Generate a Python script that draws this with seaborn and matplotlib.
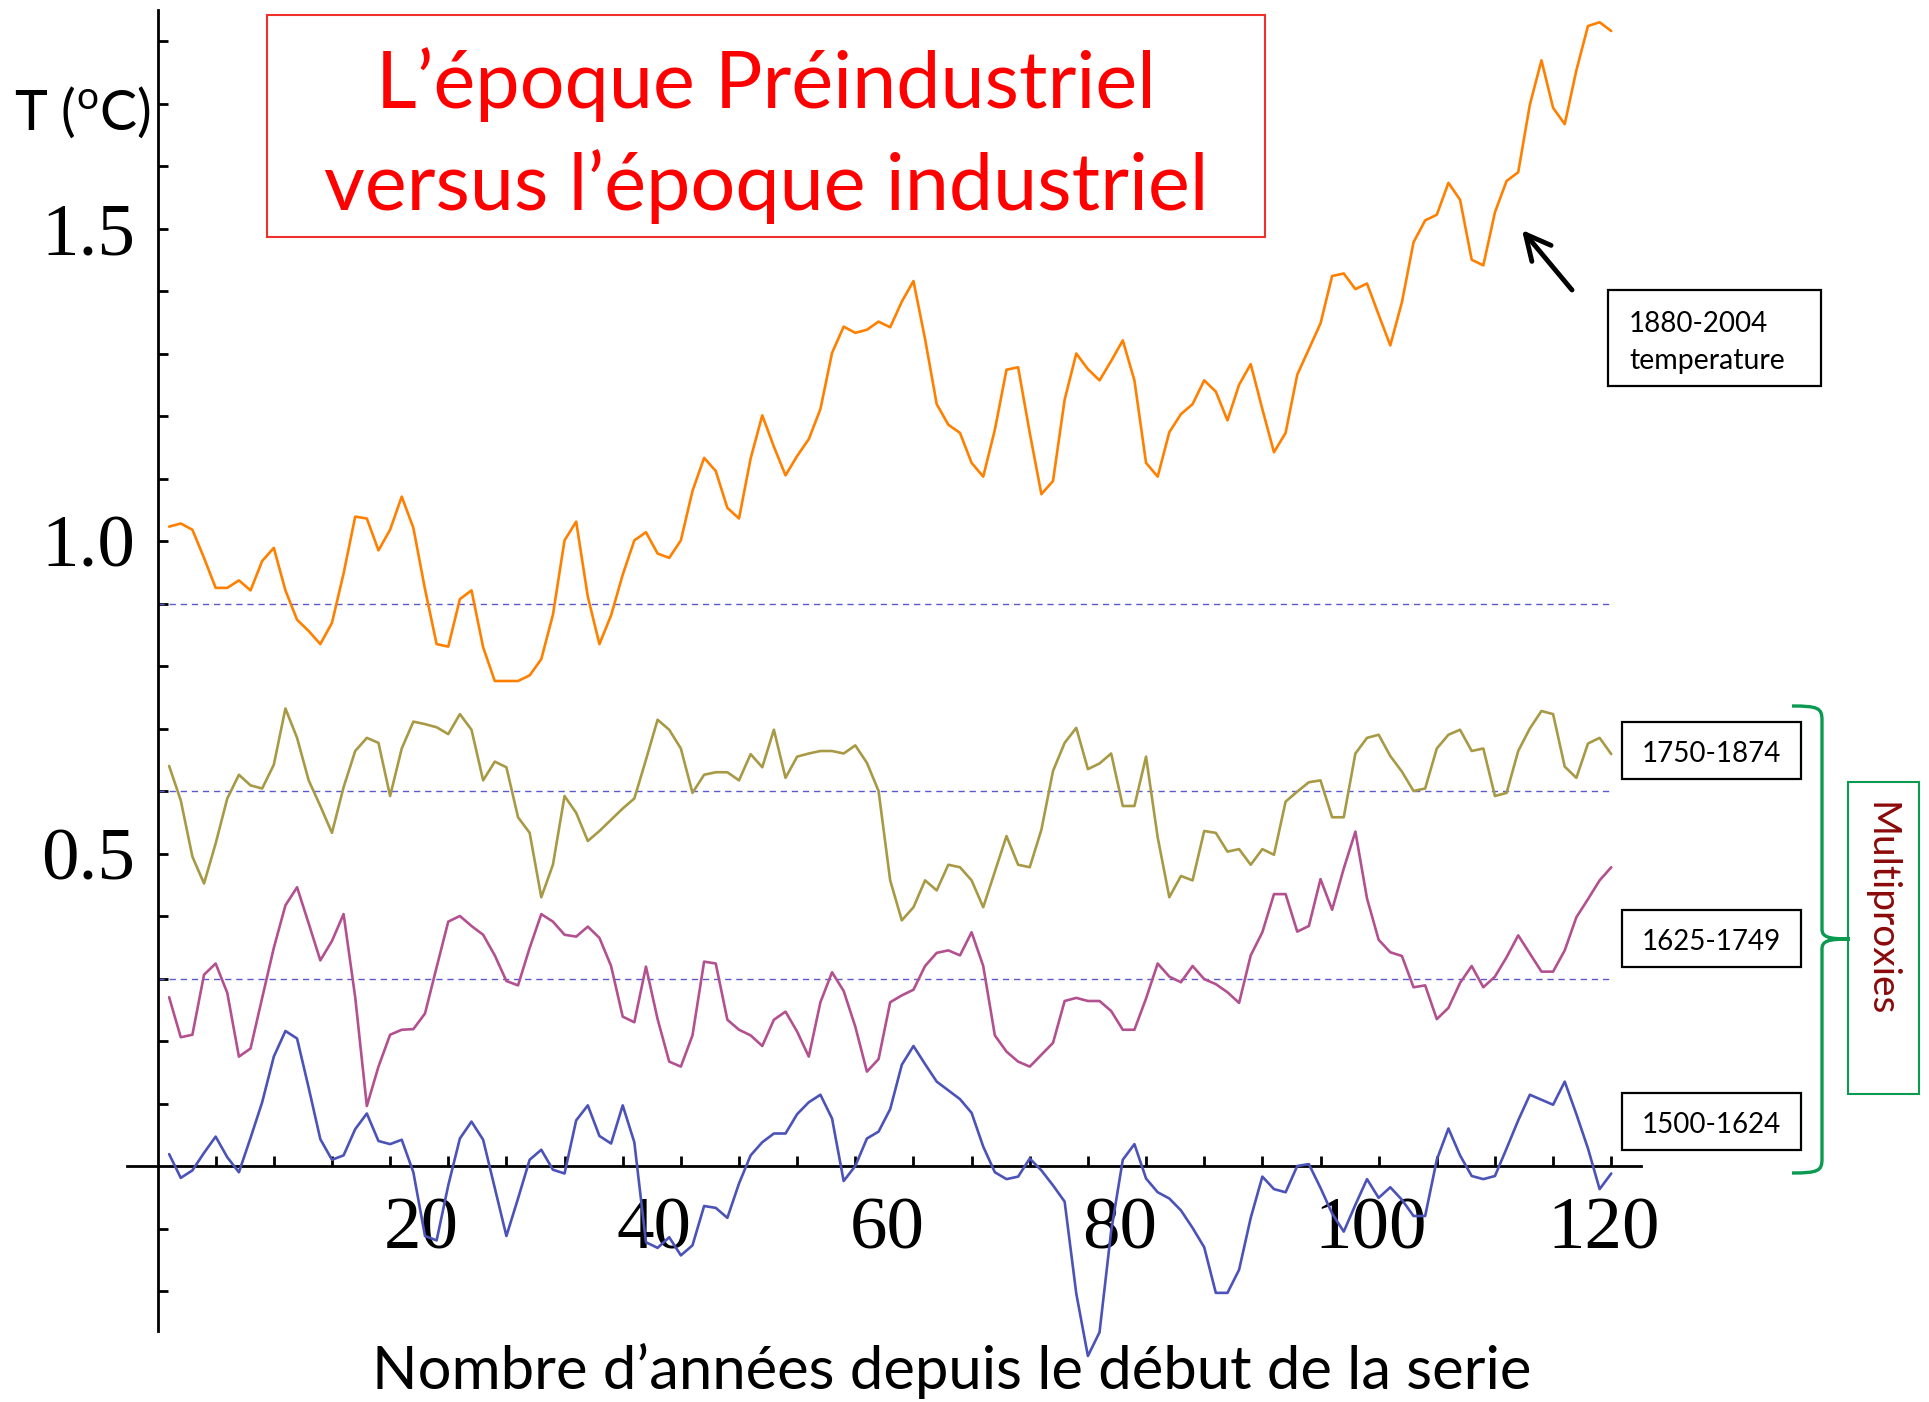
import numpy as np
import pandas as pd
import matplotlib
matplotlib.use("Agg")
import matplotlib.pyplot as plt
import seaborn as sns
from matplotlib.patches import Rectangle, PathPatch
from matplotlib.path import Path
from matplotlib.transforms import ScaledTranslation

# ---------------- data ----------------
years_index = list(range(1, 126))

temp_1880_2004 = [
    1.023, 1.028, 1.018, 0.973, 0.925, 0.925, 0.937, 0.921, 0.968, 0.989,
    0.921, 0.874, 0.856, 0.835, 0.869, 0.948, 1.039, 1.036, 0.985, 1.018,
    1.071, 1.021, 0.923, 0.835, 0.831, 0.907, 0.921, 0.830, 0.776, 0.776,
    0.776, 0.785, 0.811, 0.882, 1.001, 1.031, 0.911, 0.835, 0.881, 0.946,
    1.001, 1.014, 0.980, 0.973, 1.001, 1.080, 1.133, 1.112, 1.053, 1.036,
    1.132, 1.201, 1.151, 1.105, 1.136, 1.163, 1.211, 1.301, 1.343, 1.333,
    1.338, 1.351, 1.342, 1.383, 1.416, 1.323, 1.219, 1.186, 1.173, 1.125,
    1.103, 1.178, 1.274, 1.278, 1.173, 1.075, 1.096, 1.226, 1.300, 1.275,
    1.257, 1.288, 1.321, 1.257, 1.125, 1.103, 1.174, 1.203, 1.219, 1.257,
    1.239, 1.193, 1.250, 1.283, 1.211, 1.142, 1.173, 1.266, 1.307, 1.348,
    1.424, 1.428, 1.403, 1.412, 1.362, 1.313, 1.382, 1.478, 1.513, 1.522,
    1.573, 1.546, 1.450, 1.441, 1.526, 1.576, 1.590, 1.698, 1.769, 1.693,
    1.667, 1.753, 1.824, 1.830, 1.816]

proxy_1750_1874 = [
    0.640, 0.585, 0.495, 0.452, 0.516, 0.588, 0.626, 0.609, 0.604, 0.642,
    0.732, 0.685, 0.617, 0.576, 0.533, 0.606, 0.664, 0.685, 0.677, 0.592,
    0.668, 0.711, 0.707, 0.702, 0.691, 0.723, 0.698, 0.617, 0.647, 0.638,
    0.558, 0.533, 0.430, 0.482, 0.592, 0.565, 0.520, 0.536, 0.554, 0.572,
    0.588, 0.650, 0.714, 0.698, 0.668, 0.597, 0.626, 0.630, 0.630, 0.617,
    0.659, 0.638, 0.698, 0.621, 0.655, 0.660, 0.664, 0.664, 0.660, 0.673,
    0.645, 0.600, 0.457, 0.393, 0.414, 0.457, 0.441, 0.482, 0.478, 0.457,
    0.414, 0.471, 0.528, 0.482, 0.478, 0.538, 0.632, 0.677, 0.701, 0.635,
    0.644, 0.660, 0.576, 0.576, 0.655, 0.526, 0.430, 0.464, 0.457, 0.536,
    0.533, 0.503, 0.507, 0.482, 0.507, 0.498, 0.583, 0.599, 0.614, 0.617,
    0.558, 0.558, 0.660, 0.685, 0.690, 0.656, 0.631, 0.600, 0.604, 0.668,
    0.690, 0.698, 0.664, 0.668, 0.592, 0.597, 0.664, 0.700, 0.728, 0.723,
    0.639, 0.621, 0.676, 0.685, 0.659]

proxy_1625_1749 = [
    0.270, 0.206, 0.210, 0.306, 0.324, 0.277, 0.175, 0.188, 0.269, 0.349,
    0.417, 0.446, 0.388, 0.329, 0.360, 0.403, 0.270, 0.096, 0.159, 0.210,
    0.218, 0.219, 0.244, 0.318, 0.391, 0.400, 0.384, 0.370, 0.337, 0.296,
    0.289, 0.349, 0.403, 0.391, 0.370, 0.367, 0.383, 0.365, 0.320, 0.239,
    0.230, 0.319, 0.235, 0.167, 0.159, 0.209, 0.327, 0.324, 0.234, 0.218,
    0.209, 0.192, 0.234, 0.247, 0.215, 0.175, 0.262, 0.310, 0.280, 0.223,
    0.151, 0.171, 0.262, 0.273, 0.282, 0.320, 0.341, 0.345, 0.337, 0.374,
    0.320, 0.209, 0.183, 0.167, 0.159, 0.178, 0.197, 0.264, 0.269, 0.264,
    0.264, 0.248, 0.218, 0.218, 0.268, 0.324, 0.303, 0.294, 0.320, 0.299,
    0.291, 0.278, 0.261, 0.337, 0.374, 0.435, 0.435, 0.375, 0.384, 0.459,
    0.410, 0.476, 0.535, 0.428, 0.362, 0.342, 0.336, 0.286, 0.289, 0.235,
    0.253, 0.293, 0.320, 0.286, 0.303, 0.334, 0.369, 0.340, 0.311, 0.311,
    0.345, 0.398, 0.427, 0.457, 0.478]

proxy_1500_1624 = [
    0.019, -0.019, -0.007, 0.021, 0.047, 0.014, -0.010, 0.045, 0.102, 0.175,
    0.216, 0.204, 0.125, 0.043, 0.010, 0.017, 0.059, 0.084, 0.040, 0.035,
    0.042, -0.010, -0.112, -0.119, -0.031, 0.044, 0.071, 0.042, -0.035, -0.112,
    -0.052, 0.010, 0.026, -0.006, -0.012, 0.073, 0.097, 0.048, 0.036, 0.097,
    0.038, -0.122, -0.131, -0.114, -0.143, -0.127, -0.064, -0.067, -0.083, -0.028,
    0.017, 0.038, 0.052, 0.052, 0.083, 0.102, 0.114, 0.076, -0.024, 0.000,
    0.044, 0.055, 0.091, 0.162, 0.192, 0.163, 0.135, 0.121, 0.107, 0.085,
    0.031, -0.010, -0.021, -0.017, 0.012, -0.007, -0.031, -0.057, -0.204, -0.304,
    -0.266, -0.104, 0.010, 0.035, -0.020, -0.042, -0.052, -0.071, -0.099, -0.130,
    -0.203, -0.203, -0.166, -0.083, -0.017, -0.037, -0.042, 0.000, 0.003, -0.035,
    -0.076, -0.105, -0.062, -0.021, -0.051, -0.034, -0.054, -0.080, -0.080, 0.010,
    0.060, 0.017, -0.016, -0.021, -0.016, 0.028, 0.073, 0.114, 0.106, 0.098,
    0.135, 0.083, 0.028, -0.037, -0.012]

series_names = ["1880-2004 temperature", "1750-1874", "1625-1749", "1500-1624"]
series_colors = ["#FF8000", "#A89A45", "#B3508F", "#4B52B8"]
baselines = [0.9, 0.6, 0.3]
x_major_ticks = [20, 40, 60, 80, 100, 120]
x_tick_labels = ["20", "40", "60", "80", "100", "120"]
y_major_ticks = [0.5, 1.0, 1.5]
y_tick_labels = ["0.5", "1.0", "1.5"]

title_lines = ["L\u2019\u00e9poque Pr\u00e9industriel", "versus l\u2019\u00e9poque industriel"]
x_label = "Nombre d\u2019ann\u00e9es depuis le d\u00e9but de la serie"
y_label = r"T ($^{\mathregular{o}}$C)"

# ---------------- figure ----------------
W, H, DPI = 1929, 1402, 100
sns.set_theme(style="white")
plt.rcParams['font.family'] = ['Lato', 'DejaVu Sans']
plt.rcParams['text.color'] = 'black'
plt.rcParams['axes.labelcolor'] = 'black'
plt.rcParams['xtick.color'] = 'black'
plt.rcParams['ytick.color'] = 'black'

fig = plt.figure(figsize=(W / DPI, H / DPI), dpi=DPI)
fig.patch.set_facecolor("white")
ax = fig.add_axes([0, 0, 1, 1])
ax.set_facecolor("none")

X0, Y0 = 157.5, 1166.0   # pixel location of the data origin
SX, SY = 11.63, 625.0    # pixels per data unit
ax.set_xlim(-X0 / SX, (W - X0) / SX)
ax.set_ylim(-(H - Y0) / SY, Y0 / SY)

def fx(px):
    return px / W

def fy(py):
    return 1 - py / H

df = pd.concat([
    pd.DataFrame({"x": years_index, "T": vals, "serie": name})
    for name, vals in zip(series_names,
                          [temp_1880_2004, proxy_1750_1874, proxy_1625_1749, proxy_1500_1624])
], ignore_index=True)

ax.hlines(baselines, 0, years_index[-1], colors="#5A5AD0", linestyles=(0, (4.5, 3.5)),
          linewidth=1.0, zorder=1)

sns.lineplot(data=df, x="x", y="T", hue="serie", hue_order=series_names,
             palette=dict(zip(series_names, series_colors)), estimator=None,
             linewidth=1.9, legend=False, ax=ax, zorder=3)

# axes spines through the origin
for s in ["top", "right"]:
    ax.spines[s].set_visible(False)
ax.spines["left"].set_position(("data", 0))
ax.spines["bottom"].set_position(("data", 0))
ax.spines["left"].set_bounds(-0.264, 1.85)
ax.spines["bottom"].set_bounds(-2.62, 127.6)
for s in ["left", "bottom"]:
    ax.spines[s].set_color("black")
    ax.spines[s].set_linewidth(2.0)
    ax.spines[s].set_zorder(2)

ax.set_xticks(x_major_ticks, labels=x_tick_labels)
ax.set_xticks([t for t in range(5, 126, 5) if t not in x_major_ticks], minor=True)
ax.set_yticks(y_major_ticks, labels=y_tick_labels)
ax.set_yticks([round(v, 1) for v in np.arange(-0.2, 1.81, 0.1)
               if round(v, 1) not in y_major_ticks and abs(v) > 1e-9], minor=True)
ax.tick_params(axis="both", which="both", direction="in", length=7, width=2,
               color="black", labelcolor="black",
               bottom=True, left=True, top=False, right=False)
ax.tick_params(axis="x", which="major", pad=22, labelsize=54)
ax.tick_params(axis="y", which="major", pad=16, labelsize=54)
shift = ScaledTranslation(-6 / DPI, 0, fig.dpi_scale_trans)
for lbl in ax.get_xticklabels():
    lbl.set_fontfamily("Liberation Serif")
    lbl.set_color("black")
    lbl.set_horizontalalignment("left")
    lbl.set_transform(lbl.get_transform() + shift)
for lbl in ax.get_yticklabels():
    lbl.set_fontfamily("Liberation Serif")
    lbl.set_color("black")

ax.set_xlabel(x_label, fontsize=43, color="black")
ax.xaxis.set_label_coords(fx(952), fy(1389))
ax.xaxis.label.set_verticalalignment("baseline")
ax.set_ylabel(y_label, fontsize=40, color="black", rotation=0)
ax.yaxis.set_label_coords(fx(14), fy(130))
ax.yaxis.label.set_horizontalalignment("left")
ax.yaxis.label.set_verticalalignment("baseline")

# ---------------- title box ----------------
fig.add_artist(Rectangle((fx(267), fy(237)), fx(1265) - fx(267), fy(15) - fy(237),
                         transform=fig.transFigure, fill=False, edgecolor="#F0302A", lw=1.5))
fig.text(fx(766), fy(108), title_lines[0], color="#FF0000", fontsize=57,
         ha="center", va="baseline")
fig.text(fx(766), fy(210), title_lines[1], color="#FF0000", fontsize=57,
         ha="center", va="baseline")

# ---------------- right-side annotations ----------------
fig.add_artist(Rectangle((fx(1608), fy(386)), fx(1821) - fx(1608), fy(290) - fy(386),
                         transform=fig.transFigure, fill=False, edgecolor="black", lw=1.6))
fig.text(fx(1629), fy(332), "1880-2004", fontsize=20, color="black", ha="left", va="baseline")
fig.text(fx(1629), fy(369), "temperature", fontsize=20.5, color="black", ha="left", va="baseline")
ax.annotate("", xy=(1522, H - 230), xycoords="figure pixels",
            xytext=(1572, H - 290), textcoords="figure pixels",
            arrowprops=dict(arrowstyle="->,head_length=0.9,head_width=0.45",
                            lw=3.5, color="black", shrinkA=0, shrinkB=0,
                            mutation_scale=20))

proxy_boxes = [("1750-1874", 722, 779, 754), ("1625-1749", 910, 967, 942),
               ("1500-1624", 1093, 1150, 1125)]
for txt, top, bot, cy in proxy_boxes:
    fig.add_artist(Rectangle((fx(1622), fy(bot)), fx(1801) - fx(1622), fy(top) - fy(bot),
                             transform=fig.transFigure, fill=False, edgecolor="black", lw=1.6))
    fig.text(fx(1711), fy(cy), txt, fontsize=20, color="black", ha="center", va="center")

# curly brace
bx0, bx1, bxc = 1792, 1822, 1850
by0, bym, by1 = 706, 939, 1173
verts = [(bx0, by0), (bx1 - 4, by0), (bx1, by0 + 2), (bx1, by0 + 14),
         (bx1, bym - 10),
         (bx1, bym - 2), (bx1 + 6, bym), (bxc, bym),
         (bx1 + 6, bym), (bx1, bym + 2), (bx1, bym + 10),
         (bx1, by1 - 14),
         (bx1, by1 - 2), (bx1 - 4, by1), (bx0, by1)]
codes = [Path.MOVETO, Path.CURVE4, Path.CURVE4, Path.CURVE4,
         Path.LINETO,
         Path.CURVE4, Path.CURVE4, Path.CURVE4,
         Path.CURVE4, Path.CURVE4, Path.CURVE4,
         Path.LINETO,
         Path.CURVE4, Path.CURVE4, Path.CURVE4]
verts = [(fx(a), fy(b)) for a, b in verts]
fig.add_artist(PathPatch(Path(verts, codes), transform=fig.transFigure, fill=False,
                         edgecolor="#0A9A50", lw=2.4))
fig.add_artist(Rectangle((fx(1848), fy(1094)), fx(1919) - fx(1848), fy(782) - fy(1094),
                         transform=fig.transFigure, fill=False, edgecolor="#0A9A50", lw=1.5))
fig.text(fx(1880), fy(909), "Multiproxies", fontsize=28, color="#8B0A0A",
         rotation=-90, ha="center", va="center")

fig.savefig("out.png", dpi=DPI)
